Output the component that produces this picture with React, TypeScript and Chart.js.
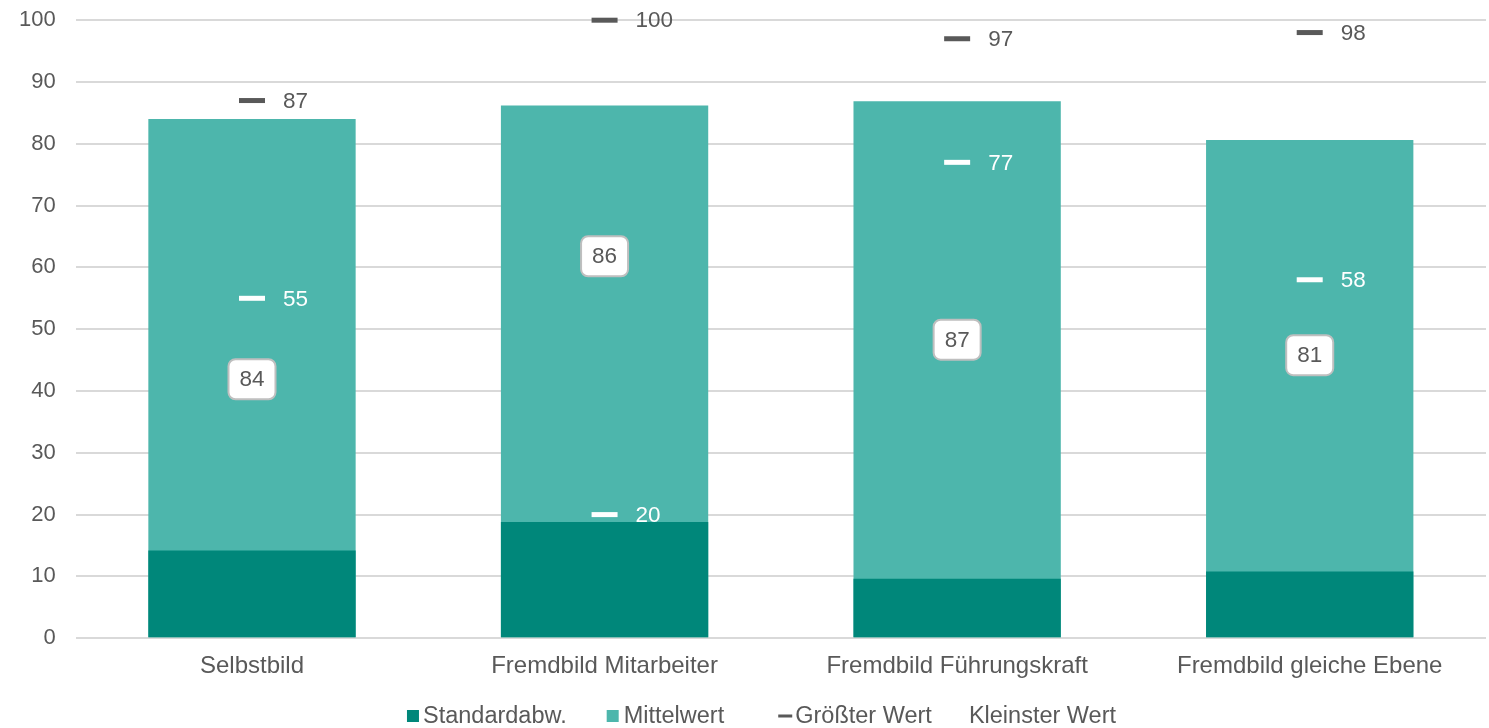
import React, { useEffect, useRef } from "react";
import { Chart, registerables } from "chart.js";

Chart.register(...registerables);

const categories = ["Selbstbild", "Fremdbild Mitarbeiter", "Fremdbild Führungskraft", "Fremdbild gleiche Ebene"];
const stdDev = [14.2, 18.8, 9.6, 10.8];
const meanValues = [84.0, 86.2, 86.9, 80.6];
const maxValues = [87, 100, 97, 98];
const minValues = [55, 20, 77, 58];
const yTicks = [0, 10, 20, 30, 40, 50, 60, 70, 80, 90, 100];
const legendLabels = ["Standardabw.", "Mittelwert", "Größter Wert", "Kleinster Wert"];
// value-axis level at which each mean label box sits
const meanLabelLevel = [41.9, 61.8, 48.3, 45.8];

const DARK = "#00877A";
const LIGHT = "#4DB6AC";
const GREY = "#595959";
const FONT = "'Liberation Sans', Arial, sans-serif";
const SHIFT = 13;

const labelPlugin = {
  id: "customLabels",
  afterDatasetsDraw(chart: any) {
    const ctx = chart.ctx;
    const yScale = chart.scales.y;
    ctx.save();
    ctx.font = `22.5px ${FONT}`;
    ctx.textBaseline = "middle";
    const meanMeta = chart.getDatasetMeta(1);
    meanMeta.data.forEach((bar: any, i: number) => {
      const text = String(Math.round(meanValues[i]));
      const cx = bar.x;
      const cy = yScale.getPixelForValue(meanLabelLevel[i]);
      const w = 47, h = 40, r = 7;
      ctx.beginPath();
      ctx.roundRect(cx - w / 2, cy - h / 2, w, h, r);
      ctx.fillStyle = "#FFFFFF";
      ctx.fill();
      ctx.lineWidth = 2;
      ctx.strokeStyle = "#BFBFBF";
      ctx.stroke();
      ctx.fillStyle = GREY;
      ctx.textAlign = "center";
      ctx.fillText(text, cx, cy + 1);
    });
    [2, 3].forEach((di) => {
      const meta = chart.getDatasetMeta(di);
      const vals = di === 2 ? maxValues : minValues;
      meta.data.forEach((pt: any, i: number) => {
        ctx.fillStyle = di === 2 ? GREY : "#FFFFFF";
        ctx.textAlign = "left";
        ctx.fillText(String(vals[i]), pt.x + 31, pt.y + 1);
      });
    });
    ctx.restore();
  },
};

const legendPlugin = {
  id: "customLegend",
  afterDraw(chart: any) {
    const ctx = chart.ctx;
    ctx.save();
    ctx.font = `23.5px ${FONT}`;
    ctx.textBaseline = "middle";
    ctx.textAlign = "left";
    const markerW = [12, 12, 14, 14];
    const markerGap = [4, 5, 3, 5];
    const gaps = [40, 54, 18];
    const colors = [DARK, LIGHT, GREY, "#FFFFFF"];
    const widths = legendLabels.map((t, i) => markerW[i] + markerGap[i] + ctx.measureText(t).width);
    const total = widths.reduce((a, b) => a + b, 0) + gaps.reduce((a, b) => a + b, 0);
    let x = (chart.width - total) / 2 + 17;
    const y = chart.height - 12;
    legendLabels.forEach((t, i) => {
      ctx.fillStyle = colors[i];
      if (i < 2) {
        ctx.fillRect(x, y - 6, 12, 12);
      } else {
        ctx.fillRect(x, y - 1.5, 14, 3);
      }
      ctx.fillStyle = GREY;
      ctx.fillText(t, x + markerW[i] + markerGap[i], y + 1);
      x += widths[i] + (gaps[i] || 0);
    });
    ctx.restore();
  },
};

export default function App() {
  const ref = useRef<HTMLCanvasElement>(null);
  useEffect(() => {
    document.body.style.margin = "0";
    const chart = new Chart(ref.current as HTMLCanvasElement, {
      type: "bar",
      data: {
        labels: categories,
        datasets: [
          {
            type: "bar",
            label: legendLabels[0],
            data: stdDev,
            backgroundColor: DARK,
            grouped: false,
            order: 1,
            barPercentage: 0.588,
            categoryPercentage: 1,
          } as any,
          {
            type: "bar",
            label: legendLabels[1],
            data: meanValues,
            backgroundColor: LIGHT,
            grouped: false,
            order: 2,
            barPercentage: 0.588,
            categoryPercentage: 1,
          } as any,
          {
            type: "line",
            label: legendLabels[2],
            data: maxValues,
            showLine: false,
            pointStyle: "line",
            pointRadius: 13,
            pointHoverRadius: 13,
            pointBorderWidth: 5,
            pointBorderColor: GREY,
            borderColor: GREY,
            backgroundColor: GREY,
            clip: false,
            order: 0,
          } as any,
          {
            type: "line",
            label: legendLabels[3],
            data: minValues,
            showLine: false,
            pointStyle: "line",
            pointRadius: 13,
            pointHoverRadius: 13,
            pointBorderWidth: 5,
            pointBorderColor: "#FFFFFF",
            borderColor: "#FFFFFF",
            backgroundColor: "#FFFFFF",
            clip: false,
            order: 0,
          } as any,
        ],
      },
      options: {
        animation: false,
        responsive: true,
        maintainAspectRatio: false,
        layout: { autoPadding: false, padding: { left: -1, right: 3, top: 0, bottom: 33 } },
        plugins: {
          tooltip: { enabled: false },
          legend: { display: false },
        },
        scales: {
          x: {
            grid: { display: false, drawTicks: false },
            border: { display: false },
            ticks: { color: GREY, font: { family: FONT, size: 24 }, padding: 14 },
          },
          y: {
            min: 0,
            max: 100,
            afterBuildTicks: (axis: any) => {
              axis.ticks = yTicks.map((v) => ({ value: v }));
            },
            grid: { color: "#D9D9D9", lineWidth: 2, drawTicks: false },
            border: { display: false },
            ticks: { color: GREY, font: { family: FONT, size: 22 }, padding: 20 },
          },
        },
      },
      plugins: [labelPlugin, legendPlugin],
    } as any);
    return () => chart.destroy();
  }, []);
  return (
    <div style={{ position: "fixed", left: 0, top: -SHIFT, width: 1489, height: 728 + SHIFT }}>
      <canvas ref={ref} />
    </div>
  );
}
